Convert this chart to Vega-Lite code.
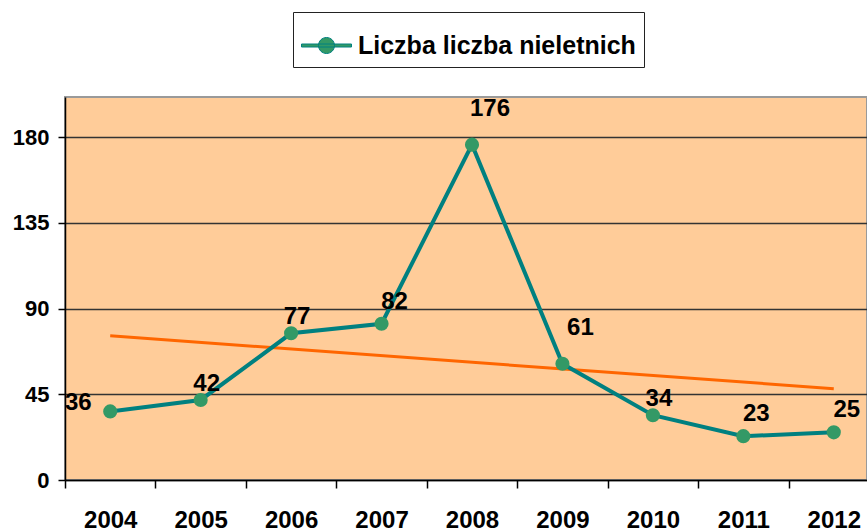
{
  "$schema": "https://vega.github.io/schema/vega-lite/v6.json",
  "autosize": {"type": "none"},
  "padding": {"left": 65, "top": 97, "right": 0, "bottom": 51},
  "width": 802,
  "height": 383,
  "background": "white",
  "config": {
    "font": "Liberation Sans",
    "view": {"fill": "#FFCC99", "stroke": "#9a9a9a", "strokeWidth": 2}
  },
  "data": {
    "values": [
      {"year": 2004, "value": 36},
      {"year": 2005, "value": 42},
      {"year": 2006, "value": 77},
      {"year": 2007, "value": 82},
      {"year": 2008, "value": 176},
      {"year": 2009, "value": 61},
      {"year": 2010, "value": 34},
      {"year": 2011, "value": 23},
      {"year": 2012, "value": 25}
    ]
  },
  "encoding": {
    "x": {
      "field": "year",
      "type": "ordinal",
      "scale": {"type": "band", "domain": [2004, 2005, 2006, 2007, 2008, 2009, 2010, 2011, 2012], "paddingInner": 0, "paddingOuter": 0, "range": [0, 814]},
      "axis": {
        "title": null,
        "labelAngle": 0,
        "tickBand": "extent",
        "tickSize": 8,
        "tickColor": "black",
        "tickWidth": 1.5,
        "domainColor": "black",
        "domainWidth": 1.5,
        "grid": false,
        "labelFontSize": 24,
        "labelFontWeight": "bold",
        "labelColor": "black",
        "labelPadding": 20
      }
    },
    "y": {
      "field": "value",
      "type": "quantitative",
      "scale": {"domain": [0, 201], "nice": false, "zero": true},
      "axis": {
        "title": null,
        "values": [0, 45, 90, 135, 180],
        "grid": true,
        "gridColor": "#333333",
        "gridWidth": 1.5,
        "tickSize": 7,
        "tickColor": "black",
        "tickWidth": 1.5,
        "domainColor": "black",
        "domainWidth": 1.5,
        "labelFontSize": 22,
        "labelFontWeight": "bold",
        "labelColor": "black",
        "labelPadding": 9
      }
    }
  },
  "layer": [
    {
      "transform": [{"regression": "value", "on": "year"}],
      "mark": {"type": "line", "color": "#FF6600", "strokeWidth": 3}
    },
    {
      "mark": {"type": "line", "strokeWidth": 4},
      "encoding": {
        "color": {
          "datum": "Liczba liczba nieletnich",
          "scale": {"range": ["#008080"]},
          "legend": {
            "title": null,
            "orient": "none",
            "legendX": 228,
            "legendY": -85,
            "padding": 8,
            "strokeColor": "#222222",
            "fillColor": "white",
            "symbolType": "M-1,-0.06L1,-0.06L1,0.06L-1,0.06Z M0.32,0A0.32,0.32 0 1 1 -0.32,0A0.32,0.32 0 1 1 0.32,0Z",
            "symbolSize": 2500,
            "symbolStrokeWidth": 1,
            "labelFontSize": 25,
            "labelFontWeight": "bold",
            "labelColor": "black",
            "labelOffset": 6,
            "labelLimit": 500,
            "encode": {
              "symbols": {"update": {"fill": {"value": "#339966"}, "stroke": {"value": "#008080"}, "strokeWidth": {"value": 1}, "opacity": {"value": 1}}}
            }
          }
        }
      }
    },
    {
      "mark": {"type": "circle", "size": 200, "color": "#339966", "opacity": 1}
    },
    {
      "transform": [{"filter": "datum.year == 2005 || datum.year == 2006 || datum.year == 2010"}],
      "mark": {"type": "text", "fontSize": 24, "fontWeight": "bold", "color": "black", "dx": 6, "dy": -16, "baseline": "middle"},
      "encoding": {"text": {"field": "value", "type": "quantitative"}}
    },
    {
      "transform": [{"filter": "datum.year == 2007 || datum.year == 2011 || datum.year == 2012"}],
      "mark": {"type": "text", "fontSize": 24, "fontWeight": "bold", "color": "black", "dx": 13, "dy": -22, "baseline": "middle"},
      "encoding": {"text": {"field": "value", "type": "quantitative"}}
    },
    {
      "transform": [{"filter": "datum.year == 2008 || datum.year == 2009"}],
      "mark": {"type": "text", "fontSize": 24, "fontWeight": "bold", "color": "black", "dx": 18, "dy": -36, "baseline": "middle"},
      "encoding": {"text": {"field": "value", "type": "quantitative"}}
    },
    {
      "transform": [{"filter": "datum.year == 2004"}],
      "mark": {"type": "text", "fontSize": 24, "fontWeight": "bold", "color": "black", "dx": -32, "dy": -8, "baseline": "middle"},
      "encoding": {"text": {"field": "value", "type": "quantitative"}}
    }
  ]
}
